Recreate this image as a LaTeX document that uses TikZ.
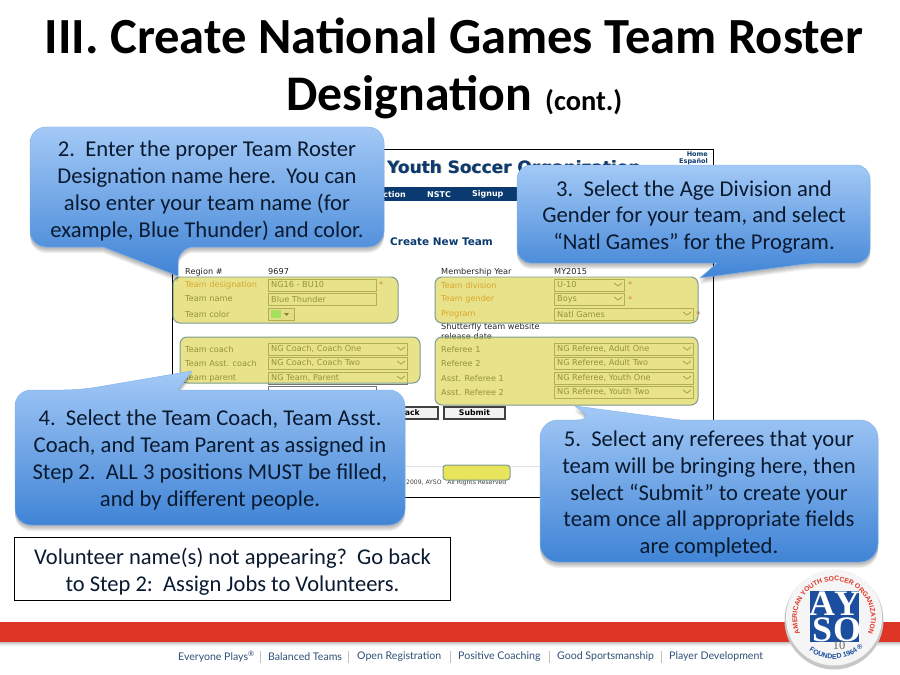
\documentclass[tikz,border=0pt]{standalone}
\usepackage{fontspec}
\setmainfont{Carlito}
\newfontfamily\formfont{DejaVu Sans}
\newfontfamily\footfont{Lato}
\newfontfamily\logoserif{Liberation Serif}
\newfontfamily\logosans{Liberation Sans}
\usetikzlibrary{decorations.text}
\definecolor{navy}{HTML}{0B3A70}
\definecolor{bubbletop}{HTML}{A3C9F6}
\definecolor{bubblebot}{HTML}{4084D6}
\definecolor{overlay}{HTML}{DAD345}
\definecolor{overedge}{HTML}{7F9A90}
\definecolor{aysored}{HTML}{DE3527}
\definecolor{aysoblue}{HTML}{1B4E9E}
\definecolor{bubbletext}{HTML}{0A1A30}
\definecolor{footblue}{HTML}{2F4F78}
\newcommand{\bubble}[1]{%
  \foreach \s in {1,2,3,4,5,6}{\path[fill=black,fill opacity=.055,yshift=-\s bp] #1;}
  \path[top color=bubbletop,bottom color=bubblebot,draw=bubbletop!70!bubblebot,line width=.5pt] #1;}
\tikzset{
  x=1bp,y=-1bp,
  bubbletxt/.style={align=center,text=bubbletext,inner sep=0pt,font=\fontsize{22.7}{27}\selectfont},
  lab/.style={anchor=west,inner sep=0pt,font=\formfont\fontsize{8.2}{9}\selectfont,text=black!85},
  labo/.style={lab,text=orange!85!red!85!black},
  ibox/.style={draw=black!55,fill=white,line width=.5pt},
  overlaybox/.style={fill=overlay,fill opacity=.62,draw=overedge,line width=1pt,rounded corners=7bp},
  btn/.style={draw=black!75,fill=white!95!black,line width=1.3pt},
  wintxt/.style={inner sep=0pt,font=\formfont\bfseries\fontsize{8}{9}\selectfont,text=white}
}
\begin{document}
\begin{tikzpicture}
\useasboundingbox (0,0) rectangle (900,675);
\fill[white] (0,0) rectangle (900,675);
% title
\node[inner sep=0pt,anchor=base,font=\bfseries\fontsize{50.8}{59}\selectfont] (title1) at (454,53.5) {III. Create National Games Team Roster};
\node[inner sep=0pt,anchor=base west,font=\bfseries\fontsize{50}{59}\selectfont] (title2) at (286,111) {Designation};
\node[inner sep=0pt,anchor=base west,font=\bfseries\fontsize{28.5}{30}\selectfont] (title3) at (545,111) {(cont.)};
% screenshot
\draw[black,line width=1pt] (384,149.5) -- (713,149.5) -- (713,425);
\draw[black,line width=1pt] (172,245) -- (172,400);
\draw[black,line width=1pt] (400,497) -- (545,497);
\draw[black!12,line width=.8pt] (400,466) -- (545,466);
\node[anchor=west,inner sep=0pt,font=\formfont\bfseries\fontsize{17}{20}\selectfont,text=black!45] (hdrs) at (387.8,169.2) {Youth Soccer Organization};
\node[anchor=west,inner sep=0pt,font=\formfont\bfseries\fontsize{17}{20}\selectfont,text=navy] (hdr) at (387,168.4) {Youth Soccer Organization};
\node[anchor=east,inner sep=0pt,font=\formfont\bfseries\fontsize{6.5}{8}\selectfont,text=navy] (home) at (708,154.5) {Home};
\node[anchor=east,inner sep=0pt,font=\formfont\bfseries\fontsize{6.5}{8}\selectfont,text=navy] (esp) at (708,161.5) {Español};
\fill[navy] (378,187) rectangle (713,201);
\node[wintxt,anchor=east] (nav1) at (406,194.5) {ction};
\node[wintxt,anchor=west] (nav2) at (427,194.5) {NSTC};
\node[wintxt,anchor=west] (nav3) at (472,194.5) {Signup};
\node[anchor=west,inner sep=0pt,font=\formfont\bfseries\fontsize{10.5}{12}\selectfont,text=navy] (create) at (390,241.5) {Create New Team};
% left form
\node[lab] (l0) at (185,272) {Region \#};
\node[lab] (v0) at (268,272) {9697};
\draw[ibox] (268,279) rectangle (376,291);
\draw[ibox] (268,293) rectangle (376,305);
\draw[ibox,fill=black!5] (268,308) rectangle (294,320);
\fill[green!70!cyan!70!white] (271,310) rectangle (281,318);
\fill[black] (284,313) -- (289,313) -- (286.5,316) -- cycle;
\node[labo] (l1) at (185,285) {Team designation};
\node[lab] (v1) at (271,285) {NG16 - BU10};
\node[lab] (l2) at (185,299) {Team name};
\node[lab] (v2) at (271,299) {Blue Thunder};
\node[lab] (l3) at (185,314) {Team color};
\node[lab,text=red!75!black] (a1) at (379,284) {*};
\foreach \yy/\lbl/\val in {349/Team coach/{NG Coach, Coach One},363/Team Asst. coach/{NG Coach, Coach Two},378/Team parent/{NG Team, Parent}}{
  \draw[ibox] (268,\yy-6) rectangle (407,\yy+6);
  \draw[black!70,line width=.8pt] (397,\yy-2) -- (401,\yy+1) -- (405,\yy-2);
  \node[lab] at (185,\yy) {\lbl};
  \node[lab] at (271,\yy) {\val};
}
\draw[ibox] (268,386) rectangle (376,398);
% right form
\node[lab] (r0) at (441,272) {Membership Year};
\node[lab] (rv0) at (554,272) {MY2015};
\foreach \yy/\xe/\lbl/\val in {285/624/Team division/U-10,299/624/Team gender/Boys,314/693/Program/Natl Games}{
  \draw[ibox] (554,\yy-6) rectangle (\xe,\yy+6);
  \draw[black!70,line width=.8pt] (\xe-10,\yy-2) -- (\xe-6,\yy+1) -- (\xe-2,\yy-2);
  \node[labo] at (441,\yy) {\lbl};
  \node[lab] at (557,\yy) {\val};
}
\node[lab,text=red!75!black] (a2) at (628,284.5) {*};
\node[lab,text=red!75!black] (a3) at (628,299) {*};
\node[lab,text=red!75!black] (a4) at (696,314) {*};
\node[lab] (r4) at (441,327) {Shutterfly team website};
\node[lab] (r5) at (441,336) {release date};
\foreach \yy/\lbl/\val in {349/Referee 1/{NG Referee, Adult One},363/Referee 2/{NG Referee, Adult Two},378/Asst. Referee 1/{NG Referee, Youth One},392/Asst. Referee 2/{NG Referee, Youth Two}}{
  \draw[ibox] (554,\yy-6) rectangle (693,\yy+6);
  \draw[black!70,line width=.8pt] (683,\yy-2) -- (687,\yy+1) -- (691,\yy-2);
  \node[lab] at (441,\yy) {\lbl};
  \node[lab] at (557,\yy) {\val};
}
% buttons and copyright
\draw[btn] (395,407) rectangle (438,419);
\node[anchor=east,inner sep=0pt,font=\formfont\bfseries\fontsize{7.8}{9}\selectfont] (back) at (420,413) {ack};
\draw[btn] (444,407) rectangle (505,419);
\node[inner sep=0pt,font=\formfont\bfseries\fontsize{7.8}{9}\selectfont] (submit) at (474.5,413) {Submit};
\node[anchor=west,inner sep=0pt,font=\formfont\fontsize{6.1}{7}\selectfont,text=black!75] (copy) at (406,483) {2009, AYSO \ \ All Rights Reserved};
% overlays
\draw[overlaybox] (173,277) rectangle (398,323);
\draw[overlaybox] (180,337) rectangle (420,383);
\draw[overlaybox] (435,277) rectangle (698,323);
\draw[overlaybox] (435,337) rectangle (698,405);
\draw[overlaybox,fill=overlay!75!yellow,fill opacity=.8,rounded corners=3bp] (443,465) rectangle (510,480);
% bubbles
\bubble{[rounded corners=16bp] (30,127) -- (384,127) -- (384,247) -- (178,247) [sharp corners] -- (178,276) -- (103,247) [rounded corners=16bp] -- (30,247) -- cycle}
\node[bubbletxt] (b2) at (207,191) {2.\ \ Enter the proper Team Roster\\Designation name here.\ \ You can\\also enter your team name (for\\example, Blue Thunder) and color.};
\bubble{[rounded corners=14bp] (517,165) -- (870,165) -- (870,263) -- (812,263) [sharp corners] -- (700,278) -- (717,263) [rounded corners=14bp] -- (517,263) -- cycle}
\node[bubbletxt] (b3) at (694,217) {3.\ \ Select the Age Division and\\Gender for your team, and select\\“Natl Games” for the Program.};
\bubble{[rounded corners=16bp] (15,390) -- (80,390) [sharp corners] -- (192,371) -- (178,390) [rounded corners=16bp] -- (405,390) -- (405,525) -- (15,525) -- cycle}
\node[bubbletxt] (b4) at (210,460) {4.\ \ Select the Team Coach, Team Asst.\\Coach, and Team Parent as assigned in\\Step 2.\ \ ALL 3 positions MUST be filled,\\and by different people.};
\bubble{[rounded corners=18bp] (540,420) -- (595,420) [sharp corners] -- (575,406) -- (680,420) [rounded corners=18bp] -- (878,420) -- (878,562) -- (540,562) -- cycle}
\node[bubbletxt] (b5) at (709,494) {5.\ \ Select any referees that your\\team will be bringing here, then\\select “Submit” to create your\\team once all appropriate fields\\are completed.};
% note
\node[draw=black,line width=1pt,fill=white,minimum width=435bp,minimum height=63bp,inner sep=0pt] (note) at (232.5,568.5) {};
\node[inner sep=0pt,align=center,text=bubbletext,font=\fontsize{22.6}{26.5}\selectfont] (notetxt) at (232.5,571.5) {Volunteer name(s) not appearing?\ \ Go back\\to Step 2:\ \ Assign Jobs to Volunteers.};
% footer band
\foreach \s/\o in {1/.09,2/.07,3/.05,4/.03,5/.02}{\fill[black,opacity=\o] (0,642) rectangle (900,642+\s);}
\fill[aysored] (0,622) rectangle (900,642);
\tikzset{foot/.style={anchor=west,inner sep=0pt,text=footblue,font=\footfont\fontsize{10.6}{12}\selectfont}}
\node[foot] (f1) at (178,657) {Everyone Plays\textsuperscript{®}};
\node[foot] (f2) at (268,657) {Balanced Teams};
\node[foot] (f3) at (357,657) {Open Registration};
\node[foot] (f4) at (458,657) {Positive Coaching};
\node[foot] (f5) at (557,657) {Good Sportsmanship};
\node[foot] (f6) at (669,657) {Player Development};
\foreach \xx in {260,348,450,549,661}{\draw[black!25,line width=.5pt] (\xx,651) -- (\xx,663);}
% logo
\fill[black!22] (834,620) circle (49.5bp);
\fill[white!96!black] (834,617.5) circle (48bp);
\fill[aysoblue] (810,591) rectangle (859,642);
\foreach \tx/\ty/\tn in {822/604/A,847/604/Y,822/629.5/S,847/629.5/O}{
  \node[inner sep=0pt,text=white,font=\logoserif\bfseries\fontsize{36}{36}\selectfont] at (\tx,\ty) {\tn};
}
\path[decorate,decoration={text along path,text align=center,text color=aysored,
  text={|\logosans\bfseries\fontsize{6.8}{8}\selectfont|AMERICAN YOUTH SOCCER ORGANIZATION}}]
  (834,618) ++(207:37bp) arc[start angle=207,end angle=-27,radius=37bp];
\path[decorate,decoration={text along path,text align=center,text color=aysoblue,
  text={|\logosans\bfseries\fontsize{7}{8}\selectfont|FOUNDED 1964 ®}}]
  (834,618) ++(222:41bp) arc[start angle=222,end angle=326,radius=41bp];
\node[inner sep=0pt,text=black!60,font=\logoserif\fontsize{12.5}{14}\selectfont] (pg) at (839,645) {10};
\end{tikzpicture}
\end{document}
